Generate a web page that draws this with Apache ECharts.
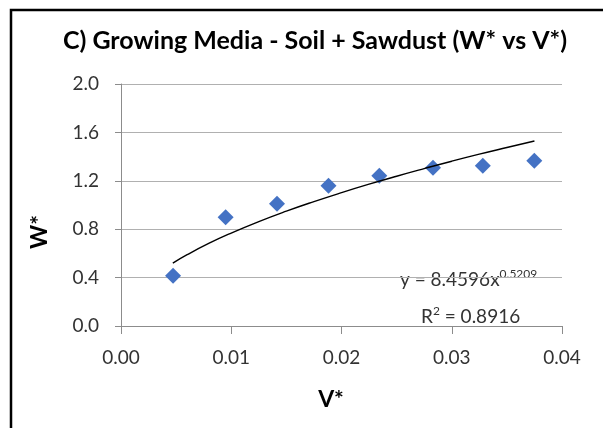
<!DOCTYPE html>
<html>
<head>
<meta charset="utf-8">
<script src="https://cdn.jsdelivr.net/npm/echarts@6/dist/echarts.min.js"></script>
<style>
html,body{margin:0;padding:0;background:#fff;}
#chart{width:603px;height:428px;}
</style>
</head>
<body>
<div id="chart"></div>
<script>
// ---- data ----
const vStar = [0.00472, 0.00949, 0.01415, 0.01882, 0.02343, 0.0283, 0.03282, 0.03749];
const wStar = [0.416, 0.898, 1.011, 1.160, 1.242, 1.308, 1.325, 1.366];
// power trendline y = 8.4596 x^0.5209
const trendV = [0.0047, 0.006, 0.008, 0.010, 0.0125, 0.015, 0.0175, 0.020, 0.0225, 0.025, 0.0275, 0.030, 0.0325, 0.035, 0.0375];
const trendW = [0.519, 0.589, 0.684, 0.768, 0.863, 0.949, 1.028, 1.102, 1.172, 1.238, 1.301, 1.362, 1.420, 1.475, 1.529];
const xTicks = [0.00, 0.01, 0.02, 0.03, 0.04];
const yTicks = [0.0, 0.4, 0.8, 1.2, 1.6, 2.0];
const titleText = 'C) Growing Media - Soil + Sawdust (W* vs V*)';
const eqCoef = '8.4596', eqExp = '0.5209', r2 = '0.8916';

const FONT = 'Lato, "Open Sans", sans-serif';
const chart = echarts.init(document.getElementById('chart'), null, {renderer: 'canvas'});

chart.setOption({
  animation: false,
  backgroundColor: '#fff',
  grid: {left: 121, right: 41, top: 84, bottom: 102, containLabel: false},
  xAxis: {
    type: 'value', min: xTicks[0], max: xTicks[xTicks.length - 1], interval: 0.01,
    axisLine: {show: true, lineStyle: {color: '#8c8c8c', width: 1}},
    axisTick: {show: true, length: 8, lineStyle: {color: '#8c8c8c'}},
    splitLine: {show: false},
    axisLabel: {margin: 22, color: '#333', fontSize: 19, fontFamily: FONT,
      formatter: v => v.toFixed(2)}
  },
  yAxis: {
    type: 'value', min: yTicks[0], max: yTicks[yTicks.length - 1], interval: 0.4,
    axisLine: {show: true, lineStyle: {color: '#8c8c8c', width: 1}},
    axisTick: {show: true, length: 6, lineStyle: {color: '#8c8c8c'}},
    splitLine: {show: true, lineStyle: {color: '#b0b0b0', width: 1}},
    axisLabel: {margin: 22, color: '#333', fontSize: 19, fontFamily: FONT,
      formatter: v => v.toFixed(1)}
  },
  series: [
    {
      type: 'scatter', name: 'data',
      data: vStar.map((v, i) => [v, wStar[i]]),
      symbol: 'diamond', symbolSize: [16, 16],
      itemStyle: {color: '#4472C4', opacity: 1}, z: 3
    },
    {
      type: 'line', name: 'trend',
      data: trendV.map((v, i) => [v, trendW[i]]),
      smooth: true, showSymbol: false, symbol: 'none',
      lineStyle: {color: '#000', width: 1.4}, z: 4
    }
  ],
  graphic: [
    {type: 'rect', shape: {x: 11, y: 10, width: 800, height: 600},
      style: {fill: 'none', stroke: '#000', lineWidth: 2.5}, silent: true},
    {type: 'text', x: 315, y: 41,
      style: {text: titleText, font: 'bold 25px ' + FONT, fill: '#000', align: 'center', verticalAlign: 'middle'}},
    {type: 'text', x: 40, y: 232, rotation: Math.PI / 2,
      style: {text: 'W*', font: 'bold 23px ' + FONT, fill: '#000', align: 'center', verticalAlign: 'middle'}},
    {type: 'text', x: 331, y: 400,
      style: {text: 'V*', font: 'bold 23px ' + FONT, fill: '#000', align: 'center', verticalAlign: 'middle'}},
    {type: 'text', x: 400, y: 280,
      style: {
        text: '{m|y = ' + eqCoef + 'x}{s|' + eqExp + '}',
        verticalAlign: 'middle',
        rich: {
          m: {font: '19px ' + FONT, fill: '#333'},
          s: {font: '12px ' + FONT, fill: '#333', padding: [0, 0, 12, 0]}
        }
      }},
    {type: 'text', x: 421, y: 317,
      style: {
        text: '{m|R}{s|2}{m| = ' + r2 + '}',
        verticalAlign: 'middle',
        rich: {
          m: {font: '19px ' + FONT, fill: '#333'},
          s: {font: '12px ' + FONT, fill: '#333', padding: [0, 0, 12, 0]}
        }
      }}
  ]
});
</script>
</body>
</html>
